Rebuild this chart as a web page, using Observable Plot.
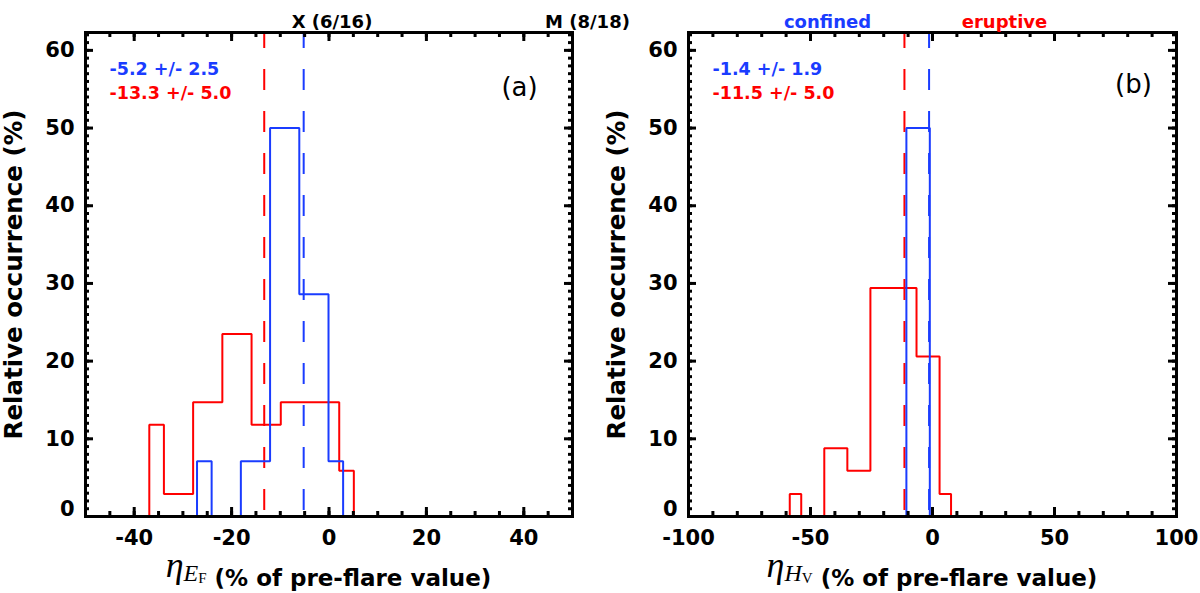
<!DOCTYPE html>
<html>
<head>
<meta charset="utf-8">
<script src="https://cdn.jsdelivr.net/npm/d3@7"></script>
<script src="https://cdn.jsdelivr.net/npm/@observablehq/plot@0.6"></script>
<style>
  body { margin: 0; background: #fff; }
  #charts { display: flex; width: 1200px; height: 593px; }
</style>
</head>
<body>
<div id="charts"></div>
<script>
// bin centres (% of pre-flare value) and relative occurrence (%)
const aConfinedBins = [-27.1, -21.1, -15.1, -9.1, -3.1, 2.9];
const aConfinedPct  = [7.1, 0, 7.1, 50.0, 28.6, 7.1];
const aEruptiveBins = [-36.9, -30.9, -24.9, -18.9, -12.9, -6.9, -0.9, 5.1];
const aEruptivePct  = [11.8, 2.9, 14.7, 23.5, 11.8, 14.7, 14.7, 5.9];

const bConfinedBins = [-10.7, -1.1];
const bConfinedPct  = [50.0, 50.0];
const bEruptiveBins = [-58.5, -49.1, -39.6, -30.2, -20.7, -11.3, -1.8, 7.6];
const bEruptivePct  = [2.9, 0, 8.8, 5.9, 29.4, 29.4, 20.6, 2.9];

// mean values (dashed lines) and the printed mean +/- error
const aMeans = [-5.2, -13.3];
const bMeans = [-1.4, -11.5];
const aStats = ["-5.2 +/- 2.5", "-13.3 +/- 5.0"];
const bStats = ["-1.4 +/- 1.9", "-11.5 +/- 5.0"];

// ticks
const aXTicks = [-40, -20, 0, 20, 40];
const aXMinor = d3.range(-45, 50, 5);
const bXTicks = [-100, -50, 0, 50, 100];
const bXMinor = d3.range(-90, 100, 10);
const yTicks = [0, 10, 20, 30, 40, 50, 60];
const yMinor = d3.range(1, 63);

const BLUE = "#1a3cff";
const RED = "#ff0000";
const H = 593, MT = 32, MB = 77;

function steps(centres, pct) {
  const n = centres.length;
  const mid = i => (centres[i] + centres[i + 1]) / 2;
  const pts = [{x: centres[0], y: 0}, {x: centres[0], y: pct[0]}];
  for (let i = 0; i < n - 1; i++) {
    pts.push({x: mid(i), y: pct[i]}, {x: mid(i), y: pct[i + 1]});
  }
  pts.push({x: centres[n - 1], y: pct[n - 1]}, {x: centres[n - 1], y: 0});
  return pts;
}

function panel(o) {
  const W = 600;
  const innerW = W - o.ml - o.mr, innerH = H - MT - MB;
  const tick = {stroke: "black", strokeWidth: 3};
  const dash = {strokeWidth: 2, strokeDasharray: "21,21", strokeDashoffset: 5};
  const lab = {fontSize: 21, fontWeight: "bold"};
  const chart = Plot.plot({
    width: W,
    height: H,
    marginLeft: o.ml,
    marginRight: o.mr,
    marginTop: MT,
    marginBottom: MB,
    x: {domain: o.xDomain, axis: null},
    y: {domain: [0, 62.3], axis: null},
    style: {fontFamily: "DejaVu Sans", background: "transparent", overflow: "visible", color: "black"},
    marks: [
      Plot.ruleX([o.means[1]], {stroke: RED, ...dash}),
      Plot.ruleX([o.means[0]], {stroke: BLUE, ...dash}),
      Plot.line(steps(o.eBins, o.ePct), {x: "x", y: "y", stroke: RED, strokeWidth: 2, strokeLinejoin: "miter"}),
      Plot.line(steps(o.cBins, o.cPct), {x: "x", y: "y", stroke: BLUE, strokeWidth: 2, strokeLinejoin: "miter"}),
      // inward ticks on all four sides
      Plot.ruleX(o.xMinor, {...tick, insetTop: innerH - 5}),
      Plot.ruleX(o.xMinor, {...tick, insetBottom: innerH - 5}),
      Plot.ruleX(o.xTicks, {...tick, insetTop: innerH - 9}),
      Plot.ruleX(o.xTicks, {...tick, insetBottom: innerH - 9}),
      Plot.ruleY(yMinor, {...tick, insetRight: innerW - 4}),
      Plot.ruleY(yMinor, {...tick, insetLeft: innerW - 4}),
      Plot.ruleY(yTicks, {...tick, insetRight: innerW - 8}),
      Plot.ruleY(yTicks, {...tick, insetLeft: innerW - 8}),
      Plot.frame({stroke: "black", strokeWidth: 3}),
      // tick labels
      Plot.text(o.xTicks, {x: d => d, frameAnchor: "bottom", dy: 28, ...lab}),
      Plot.text(yTicks.filter(d => d > 0), {y: d => d, frameAnchor: "left", dx: -11, textAnchor: "end", ...lab}),
      Plot.text([0], {y: d => d, frameAnchor: "left", dx: -11, dy: -7, textAnchor: "end", ...lab}),
      Plot.text(["Relative occurrence (%)"], {frameAnchor: "left", textAnchor: "middle", rotate: -90, dx: -71, fontSize: 24.5, fontWeight: "bold"}),
      // mean +/- error
      Plot.text([o.stats[0]], {frameAnchor: "top-left", dx: 24, dy: 30, textAnchor: "start", fill: BLUE, fontSize: 17.5, fontWeight: "bold"}),
      Plot.text([o.stats[1]], {frameAnchor: "top-left", dx: 24, dy: 54, textAnchor: "start", fill: RED, fontSize: 17.5, fontWeight: "bold"}),
      Plot.text([o.letter], {frameAnchor: "top-right", textAnchor: "middle", dx: o.letterDx, dy: o.letterDy, fontSize: 26}),
      ...o.top.map(t => Plot.text([t.text], {frameAnchor: t.anchor, textAnchor: "middle", dx: t.dx, dy: -17, fill: t.fill, fontSize: 18, fontWeight: "bold"}))
    ]
  });

  // x label with the math symbol
  const t = d3.select(chart).append("text")
    .attr("x", o.ml + innerW / 2)
    .attr("y", 586)
    .attr("text-anchor", "middle")
    .attr("font-family", "DejaVu Sans")
    .attr("font-weight", "bold")
    .attr("font-size", 23)
    .attr("fill", "black");
  t.append("tspan").attr("font-family", "Liberation Serif").attr("font-style", "italic").attr("font-weight", "normal")
    .attr("font-size", 36).attr("dy", -9).text("\u03b7");
  t.append("tspan").attr("font-family", "Liberation Serif").attr("font-style", "italic").attr("font-weight", "normal")
    .attr("font-size", 24).attr("dy", 4).text(o.sub);
  t.append("tspan").attr("font-family", "Liberation Serif").attr("font-weight", "normal")
    .attr("font-size", 15).attr("dy", 2).text(o.subsub);
  t.append("tspan").attr("dy", 3).text(" (% of pre-flare value)");

  return chart;
}

const left = panel({
  ml: 85, mr: 28, xDomain: [-50, 50],
  xTicks: aXTicks, xMinor: aXMinor,
  cBins: aConfinedBins, cPct: aConfinedPct,
  eBins: aEruptiveBins, ePct: aEruptivePct,
  means: aMeans, stats: aStats,
  letter: "(a)", letterDx: -53, letterDy: 45,
  sub: "E", subsub: "F",
  top: [
    {text: "X (6/16)", anchor: "top", dx: 3, fill: "black"},
    {text: "M (8/18)", anchor: "top-right", dx: 15, fill: "black"}
  ]
});

const right = panel({
  ml: 88, mr: 24, xDomain: [-100, 100],
  xTicks: bXTicks, xMinor: bXMinor,
  cBins: bConfinedBins, cPct: bConfinedPct,
  eBins: bEruptiveBins, ePct: bEruptivePct,
  means: bMeans, stats: bStats,
  letter: "(b)", letterDx: -43, letterDy: 42,
  sub: "H", subsub: "V",
  top: [
    {text: "confined", anchor: "top", dx: -105, fill: BLUE},
    {text: "eruptive", anchor: "top", dx: 72, fill: RED}
  ]
});

d3.select("#charts").append(() => left);
d3.select("#charts").append(() => right);
</script>
</body>
</html>
